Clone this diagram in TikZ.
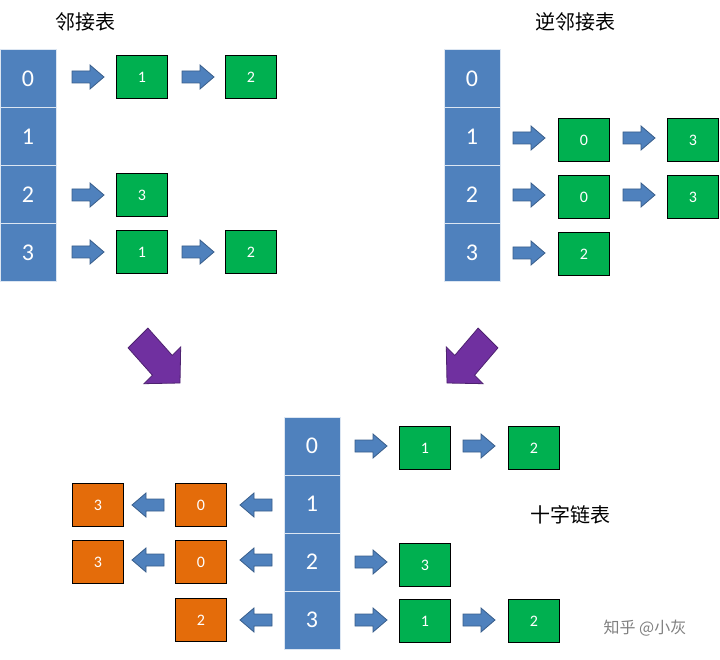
\documentclass[tikz,border=0pt]{standalone}
\usepackage{fontspec}
\setmainfont{Carlito}
\newfontfamily\cjk{Noto Sans CJK SC}
\definecolor{cellblue}{HTML}{4F81BD}
\definecolor{cellborder}{HTML}{385D8A}
\definecolor{boxgreen}{HTML}{00B050}
\definecolor{boxorange}{HTML}{E46C0A}
\definecolor{purp}{HTML}{7030A0}
\tikzset{
 cell/.style={draw=white!80!cellblue,line width=1pt,fill=cellblue,text=white,minimum width=56pt,minimum height=58pt,inner sep=0,font=\fontsize{24}{24}\selectfont},
 gbox/.style={draw=black,line width=1pt,fill=boxgreen,text=white,minimum width=51pt,minimum height=43pt,inner sep=0,font=\fontsize{16}{16}\selectfont},
 obox/.style={gbox,fill=boxorange},
 arrstyle/.style={draw=cellborder,line width=0.8pt,fill=cellblue,line join=miter},
 blkr/.pic={\path[arrstyle] (-16,-6)--(2,-6)--(2,-12)--(16,0)--(2,12)--(2,6)--(-16,6)--cycle;},
 blkl/.pic={\path[arrstyle] (16,-6)--(-2,-6)--(-2,-12)--(-16,0)--(-2,12)--(-2,6)--(16,6)--cycle;},
 parrow/.style={draw=purp!70!black,line width=0.8pt,fill=purp},
 ttl/.style={font=\cjk\fontsize{20}{20}\selectfont}
}
\begin{document}
\begin{tikzpicture}[x=1pt,y=-1pt]
\useasboundingbox (0,0) rectangle (720,660);
\node[ttl] (t1) at (85,22) {邻接表};
\node[ttl] (t2) at (575,22) {逆邻接表};
\node[ttl] (t3) at (570,515) {十字链表};
\node[font=\cjk\fontsize{16}{16}\selectfont,text=gray] (wm) at (645,628) {知乎 @小灰};
% top-left
\foreach \i/\y in {0/79,1/137,2/195,3/253}{\node[cell] (a\i) at (28,\y) {\i};}
\pic (aa0) at (88,77) {blkr}; \node[gbox] (a01) at (142,77) {1};
\pic (ab0) at (198,77) {blkr}; \node[gbox] (a02) at (251,77) {2};
\pic (aa2) at (88,195) {blkr}; \node[gbox] (a23) at (142,195) {3};
\pic (aa3) at (88,252) {blkr}; \node[gbox] (a31) at (142,252) {1};
\pic (ab3) at (198,252) {blkr}; \node[gbox] (a32) at (251,252) {2};
% top-right
\foreach \i/\y in {0/79,1/137,2/195,3/253}{\node[cell] (b\i) at (472,\y) {\i};}
\pic (ba1) at (529,138) {blkr}; \node[gbox] (b10) at (584,140) {0};
\pic (bb1) at (639,138) {blkr}; \node[gbox] (b13) at (693,140) {3};
\pic (ba2) at (529,195) {blkr}; \node[gbox] (b20) at (584,197) {0};
\pic (bb2) at (639,195) {blkr}; \node[gbox] (b23) at (693,197) {3};
\pic (ba3) at (529,253) {blkr}; \node[gbox] (b32) at (584,254) {2};
% purple
\path[parrow] (128.1,347.9)--(152.4,375.2)--(143.9,383.7)--(180,383)--(180.7,346.9)--(172.2,355.4)--(147.9,328.1)--cycle;
\path[parrow] (497.9,347.9)--(474.6,375.2)--(483.1,383.7)--(447,383)--(446.3,346.9)--(454.8,355.4)--(478.1,328.1)--cycle;
% bottom
\foreach \i/\y in {0/446,1/504,2/562,3/620}{\node[cell] (c\i) at (312,\y) {\i};}
\pic (ca0) at (371,446) {blkr}; \node[gbox] (c01) at (425,448) {1};
\pic (cb0) at (479,446) {blkr}; \node[gbox] (c02) at (534,448) {2};
\pic (ca2) at (371,562) {blkr}; \node[gbox] (c23) at (425,565) {3};
\pic (ca3) at (371,620) {blkr}; \node[gbox] (c31) at (425,621) {1};
\pic (cb3) at (479,620) {blkr}; \node[gbox] (c32) at (534,621) {2};
\pic (la1) at (256,505) {blkl}; \node[obox] (c10) at (201,505) {0};
\pic (lb1) at (148,505) {blkl}; \node[obox] (c13) at (98,505) {3};
\pic (la2) at (256,560) {blkl}; \node[obox] (c20) at (201,562) {0};
\pic (lb2) at (148,560) {blkl}; \node[obox] (c23b) at (98,562) {3};
\pic (la3) at (256,620) {blkl}; \node[obox] (c32b) at (201,620) {2};
\end{tikzpicture}
\end{document}
